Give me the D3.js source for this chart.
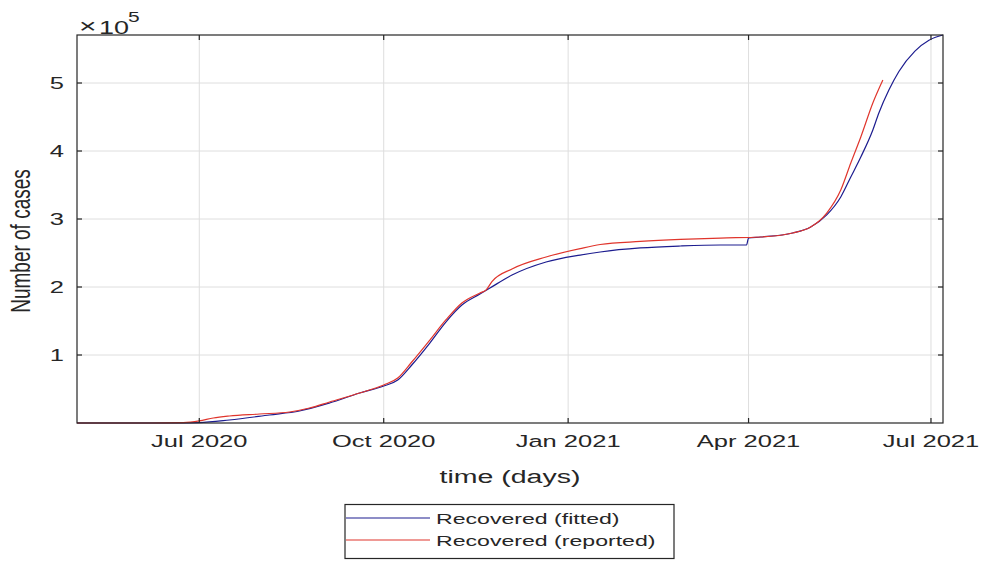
<!DOCTYPE html>
<html>
<head>
<meta charset="utf-8">
<script src="https://cdn.jsdelivr.net/npm/d3@7"></script>
<style>
  html, body { margin: 0; padding: 0; background: #ffffff; }
  svg { display: block; }
  text { font-family: "Liberation Sans", Arial, sans-serif; fill: #262626; }
</style>
</head>
<body>
<svg id="chart" width="983" height="563"></svg>
<script>
// Cumulative recovered cases: reported counts and the fitted model curve
const reportedDates = ["2020-05-01","2020-06-06","2020-06-23","2020-07-01","2020-07-08","2020-07-16","2020-07-31","2020-08-15","2020-08-25","2020-09-04","2020-09-19","2020-10-01","2020-10-08","2020-10-15","2020-10-24","2020-11-01","2020-11-09","2020-11-18","2020-11-21","2020-11-24","2020-12-04","2020-12-21","2021-01-07","2021-01-17","2021-02-06","2021-02-26","2021-03-18","2021-04-07","2021-04-23","2021-05-02","2021-05-10","2021-05-17","2021-05-22","2021-05-27","2021-06-02","2021-06-07"];
const reportedValues = [0,0,500,3000,7400,10300,13200,16200,22000,30900,44100,55900,66200,89700,122000,151500,176500,191200,195500,208000,226500,244100,256500,262500,267000,270000,272000,273500,279400,288200,308800,342600,382400,420600,470600,504400];

const fittedDates = ["2020-05-01","2020-06-20","2020-07-01","2020-07-16","2020-08-05","2020-08-20","2020-09-04","2020-09-19","2020-10-01","2020-10-08","2020-10-15","2020-10-24","2020-11-01","2020-11-09","2020-11-18","2020-11-23","2020-12-04","2020-12-21","2021-01-07","2021-01-17","2021-02-06","2021-02-26","2021-03-18","2021-03-31","2021-04-01","2021-04-07","2021-04-23","2021-05-02","2021-05-10","2021-05-17","2021-05-22","2021-05-27","2021-06-02","2021-06-05","2021-06-10","2021-06-15","2021-06-23","2021-06-30","2021-07-07"];
const fittedValues = [0,0,500,4400,11800,17600,29400,44100,54400,63200,85300,117600,148500,173500,189700,198500,217600,236800,247000,251500,257400,260300,261800,261800,272100,273500,279400,288200,306000,332400,361800,391200,430900,455900,489700,517000,547000,563000,570600];

const xTickDates = ["2020-07-01","2020-10-01","2021-01-01","2021-04-01","2021-07-01"];
const xTickLabels = ["Jul 2020","Oct 2020","Jan 2021","Apr 2021","Jul 2021"];
const yTickValues = [100000, 200000, 300000, 400000, 500000];
const yTickLabels = ["1","2","3","4","5"];
const xDomain = ["2020-05-01","2021-07-07"];
const yMax = 570600;

const seriesNames = ["Recovered (fitted)", "Recovered (reported)"];
const seriesColors = ["#1c1c8f", "#e0352c"];

const parse = d3.utcParse("%Y-%m-%d");
const svg = d3.select("#chart");

const plot = { left: 77, right: 943, top: 35, bottom: 423 };
const STRETCH = 1.5; // wide glyph rendering

const x = d3.scaleUtc().domain(xDomain.map(parse)).range([plot.left, plot.right]);
const y = d3.scaleLinear().domain([0, yMax]).range([plot.bottom, plot.top]);

function label(g, px, py, str, size, anchor, rotate) {
  return g.append("text")
    .attr("transform", `translate(${px},${py}) scale(${STRETCH},1)` + (rotate ? ` rotate(${rotate})` : ""))
    .attr("font-size", size)
    .attr("text-anchor", anchor)
    .text(str);
}

// Grid
const grid = svg.append("g");
grid.selectAll("line.vx").data(xTickDates.map(parse)).join("line")
  .attr("x1", d => x(d)).attr("x2", d => x(d))
  .attr("y1", plot.top).attr("y2", plot.bottom)
  .attr("stroke", "#dedede").attr("stroke-width", 1);
grid.selectAll("line.hy").data(yTickValues).join("line")
  .attr("x1", plot.left).attr("x2", plot.right)
  .attr("y1", d => y(d)).attr("y2", d => y(d))
  .attr("stroke", "#dedede").attr("stroke-width", 1);

// Series
const line = d3.line().x(d => x(d[0])).y(d => y(d[1])).curve(d3.curveMonotoneX);
const fitted = fittedDates.map((d, i) => [parse(d), fittedValues[i]]);
const reported = reportedDates.map((d, i) => [parse(d), reportedValues[i]]);

svg.append("path").datum(fitted).attr("d", line)
  .attr("fill", "none").attr("stroke", seriesColors[0]).attr("stroke-width", 1.2);
svg.append("path").datum(reported).attr("d", line)
  .attr("fill", "none").attr("stroke", seriesColors[1]).attr("stroke-width", 1.2);

// Axes box with inward ticks on all four sides
const axG = svg.append("g").attr("stroke", "#262626").attr("stroke-width", 1.2);
axG.append("rect")
  .attr("x", plot.left).attr("y", plot.top)
  .attr("width", plot.right - plot.left).attr("height", plot.bottom - plot.top)
  .attr("fill", "none");
const tickLen = 5;
xTickDates.map(parse).forEach(d => {
  axG.append("line").attr("x1", x(d)).attr("x2", x(d)).attr("y1", plot.bottom).attr("y2", plot.bottom - tickLen);
  axG.append("line").attr("x1", x(d)).attr("x2", x(d)).attr("y1", plot.top).attr("y2", plot.top + tickLen);
});
yTickValues.forEach(v => {
  axG.append("line").attr("x1", plot.left).attr("x2", plot.left + tickLen).attr("y1", y(v)).attr("y2", y(v));
  axG.append("line").attr("x1", plot.right).attr("x2", plot.right - tickLen).attr("y1", y(v)).attr("y2", y(v));
});

// Tick labels
const labels = svg.append("g");
xTickDates.map(parse).forEach((d, i) => {
  label(labels, x(d), plot.bottom + 24, xTickLabels[i], 17, "middle");
});
yTickValues.forEach((v, i) => {
  label(labels, plot.left - 13, y(v) + 6, yTickLabels[i], 17, "end");
});

// Exponent marker
const expG = svg.append("g");
label(expG, 79, 33, "\u00d7", 20, "start");
label(expG, 99, 34, "10", 18, "start");
label(expG, 128, 22, "5", 14, "start");

// Axis titles
label(svg, (plot.left + plot.right) / 2, 483, "time (days)", 19, "middle");
label(svg, 30, 241, "Number of cases", 19, "middle", -90);

// Legend
const leg = svg.append("g");
leg.append("rect").attr("x", 345).attr("y", 504.5).attr("width", 329).attr("height", 54)
  .attr("fill", "#ffffff").attr("stroke", "#262626").attr("stroke-width", 1.2);
seriesNames.forEach((name, i) => {
  const ly = 518 + i * 22;
  leg.append("line").attr("x1", 346).attr("x2", 430).attr("y1", ly).attr("y2", ly)
    .attr("stroke", seriesColors[i]).attr("stroke-width", 1.2);
  label(leg, 436, ly + 5.5, name, 15.4, "start");
});
</script>
</body>
</html>
